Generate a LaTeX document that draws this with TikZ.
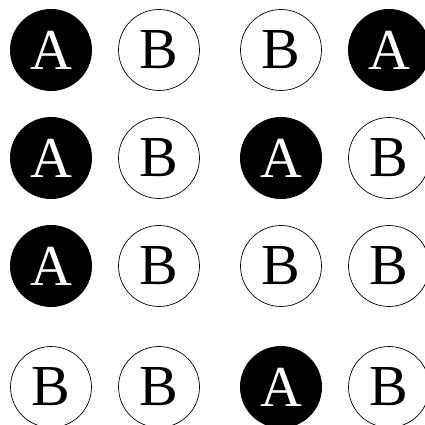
\documentclass[tikz,border=0pt]{standalone}
\usepackage{fontspec}
\setmainfont{Liberation Serif}
\usetikzlibrary{positioning}

\begin{document}
\begin{tikzpicture}[x=1pt,y=1pt,
  cellA/.style={circle,fill=black,text=white,minimum size=82pt,inner sep=0pt,font=\fontsize{58}{60}\selectfont},
  cellB/.style={circle,draw=black,line width=0.7pt,fill=white,text=black,minimum size=81pt,inner sep=0pt,font=\fontsize{58}{60}\selectfont}]
\useasboundingbox (0,0) rectangle (425,425);
\clip (0,0) rectangle (425,425);
% Filled cells (row/column in the name).
\foreach \r/\c/\x/\y in {1/1/51/375,1/4/389/375,2/1/51/267,2/3/281/267,3/1/51/159,4/3/281/38}{
  \node[cellA] (c\r\c) at (\x,\y) {A};
}
% Open cells.
\foreach \r/\c/\x/\y in {1/2/159/375,1/3/281/375,2/2/159/267,2/4/389/267,3/2/159/159,3/3/281/159,3/4/389/159,4/1/51/38,4/2/159/38,4/4/389/38}{
  \node[cellB] (c\r\c) at (\x,\y) {B};
}
\end{tikzpicture}
\end{document}
